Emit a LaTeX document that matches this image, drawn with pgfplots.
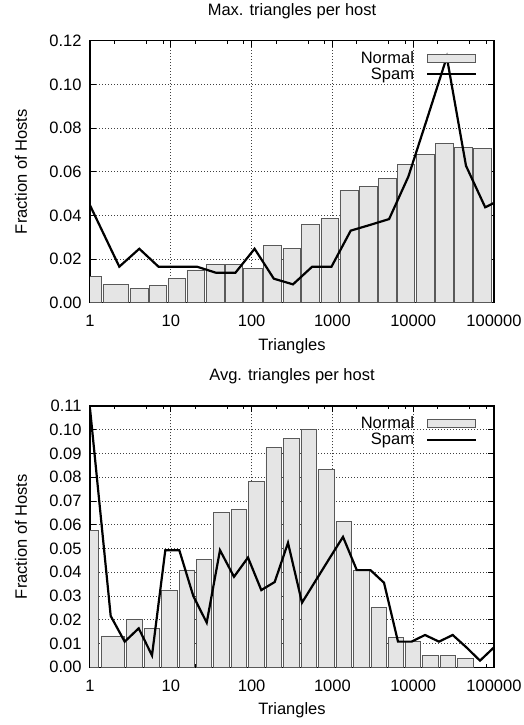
\documentclass[border=0pt]{standalone}
\usepackage{fontspec}
\setmainfont{Liberation Sans}
\usepackage{pgfplots}
\pgfplotsset{compat=1.18}
\newcommand\f{\fontsize{16.5}{19}\selectfont}
\pgfplotsset{
  every axis/.append style={
    scale only axis, width=404pt, xmode=log, xmin=1, xmax=100000,
    ymin=0, font=\f,
    xtick={1,10,100,1000,10000,100000},
    xticklabels={1,10,100,1000,10000,100000},
    minor xtick={2,5,8,20,50,80,200,500,800,2000,5000,8000,20000,50000,80000},
    tick align=inside, tick pos=both,
    major tick length=6pt, minor tick length=3.5pt,
    every tick/.style={black, line width=0.8pt},
    axis line style={black, line width=1.2pt},
    grid=major,
    major grid style={black!75, line width=0.7pt, dash pattern=on 0.8pt off 2.2pt},
    xticklabel style={anchor=base, yshift=-24pt, font=\f},
    yticklabel style={font=\f, xshift=-5pt, /pgf/number format/.cd, fixed, fixed zerofill, precision=2, assume math mode=true},
    title style={at={(axis description cs:0.5,1)}, anchor=base, yshift=19.2pt, font=\f},
    xlabel style={at={(axis description cs:0.5,0)}, anchor=base, yshift=-47.5pt, font=\f},
    ylabel style={at={(axis description cs:-0.1708,0.5)}, anchor=center, font=\f},
    xlabel={Triangles}, ylabel={Fraction of Hosts},
    legend plot pos=right,
    legend style={draw=none, fill=none, at={(axis description cs:1,1)}, anchor=north east,
      xshift=-14pt, yshift=-6.5pt, legend cell align=right, font=\f, row sep=-1pt},
  },
}
\pgfplotstableread{
x y
0.752 0.0122
1.408 0.0084
3.064 0.0064
5.320 0.0079
9.05 0.0110
15.55 0.0150
26.73 0.0176
46.47 0.0177
77.6 0.0157
137.2 0.0263
239.9 0.0249
408.7 0.0360
708.5 0.0386
1217 0.0515
2116 0.0531
3636 0.0570
6248 0.0632
10617 0.0681
18458 0.0730
31989 0.0711
54970 0.0708
94450 0
}\topnormal
\pgfplotstableread{
x y
1 0.0446
2.305 0.0165
4.075 0.0247
7.04 0.0165
12.17 0.0165
21.04 0.0165
36.36 0.0137
63.02 0.0137
108.9 0.0247
188.3 0.0110
325.4 0.0084
562.3 0.0165
974.7 0.0165
1685 0.0330
2912 0.0356
5032 0.0383
8698 0.0577
15077 0.0850
26050 0.1125
45020 0.0627
77840 0.0437
134500 0.0480
}\topspam
\pgfplotstableread{
x y
0.5655 0.0577
1.318 0.0132
2.766 0.0202
4.567 0.0164
7.50 0.0324
12.38 0.0410
20.33 0.0454
33.01 0.0653
54.51 0.0664
89.48 0.0784
146.5 0.0924
242.6 0.0964
397.2 0.1000
650.6 0.0832
1077 0.0613
1763 0.0406
2920 0.0251
4780 0.0126
7761 0.0109
12745 0.0050
20860 0.0048
34160 0.0036
57050 0
}\botnormal
\pgfplotstableread{
x y
1 0.109
1.804 0.0216
2.689 0.0108
4.006 0.0164
5.853 0.0050
8.552 0.0493
12.74 0.0493
18.99 0.0300
27.82 0.0188
40.63 0.0493
60.56 0.0381
90.25 0.0462
131.8 0.0325
193.1 0.0359
282.2 0.0524
420.5 0.0272
621.4 0.0365
918.2 0.0458
1353 0.0549
2004 0.0409
2961 0.0409
4351 0.0356
6484 0.0108
9554 0.0108
13996 0.0136
20860 0.0108
30830 0.0136
45530 0.0084
67090 0.0028
100000 0.0084
}\botspam
\begin{document}
\begin{tikzpicture}
\path[use as bounding box] (0pt,0pt) rectangle (523pt,725pt);
\begin{axis}[at={(90pt,422.3pt)}, anchor=south west, height=262pt,
  ymax=0.12, ytick={0,0.02,0.04,0.06,0.08,0.1,0.12},
  title={Max. triangles per host}]
\addplot[ybar interval=0.93, /pgf/bar interval width=0.93, fill=black!10, draw=black!65, line width=0.8pt,
  legend image code/.code={\path[draw=none, fill=none] (0pt,0pt) -- (59.7pt,0pt);
    \draw[fill=black!10, draw=black!65, line width=0.8pt] (11pt,-4pt) rectangle (59.7pt,4pt);}]
  table[x=x,y=y] {\topnormal};
\addlegendentry{Normal}
\addplot[black, line width=2.2pt, line join=miter,
  legend image code/.code={\path[draw=none, fill=none] (0pt,0pt) -- (59.7pt,0pt);
    \draw[black, line width=2.2pt] (11pt,0pt) -- (59.7pt,0pt);}]
  table[x=x,y=y] {\topspam};
\addlegendentry{Spam}
\end{axis}
\begin{axis}[at={(90pt,57.7pt)}, anchor=south west, height=261.3pt,
  ymax=0.11, ytick={0,0.01,0.02,0.03,0.04,0.05,0.06,0.07,0.08,0.09,0.1,0.11},
  title={Avg. triangles per host}]
\addplot[ybar interval=0.89, /pgf/bar interval width=0.89, fill=black!10, draw=black!65, line width=0.8pt,
  legend image code/.code={\path[draw=none, fill=none] (0pt,0pt) -- (59.7pt,0pt);
    \draw[fill=black!10, draw=black!65, line width=0.8pt] (11pt,-4pt) rectangle (59.7pt,4pt);}]
  table[x=x,y=y] {\botnormal};
\addlegendentry{Normal}
\addplot[black, line width=2.2pt, line join=miter,
  legend image code/.code={\path[draw=none, fill=none] (0pt,0pt) -- (59.7pt,0pt);
    \draw[black, line width=2.2pt] (11pt,0pt) -- (59.7pt,0pt);}]
  table[x=x,y=y] {\botspam};
\addlegendentry{Spam}
\end{axis}
\end{tikzpicture}
\end{document}
